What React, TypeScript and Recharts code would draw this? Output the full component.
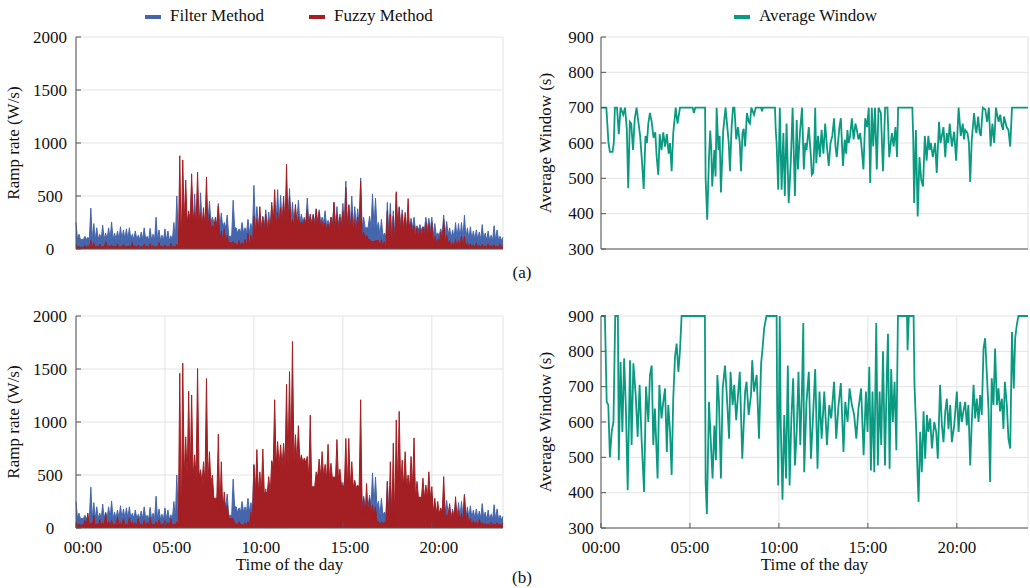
import React from "react";
import {
  Area,
  AreaChart,
  CartesianGrid,
  Legend,
  Line,
  LineChart,
  XAxis,
  YAxis
} from "recharts";

const FONT = '"Liberation Serif", "Times New Roman", serif';
const BLUE = "#4566ad";
const RED = "#a31f23";
const TEAL = "#0a9a82";
const FRAME = "#555";
const GRID = "#e3e3e3";
const INK = "#111";

// time axis (hours of the day)
const hourTicks = [0, 5, 10, 15, 20];
const hourLabels = ["00:00", "05:00", "10:00", "15:00", "20:00"];
const rampTicks = [0, 500, 1000, 1500, 2000];
const windowTicks = [300, 400, 500, 600, 700, 800, 900];

// ramp rate peaks, one every 10 minutes from 00:00 to 24:00 (W/s)
const rampHours = Array.from({ length: 145 }, (_, i) => i / 6);

const filterRamp = [
  250, 140, 90, 120, 110, 385, 240, 200, 140, 225, 150, 200, 255, 150, 170, 210, 180, 190,
  200, 140, 170, 130, 160, 200, 120, 195, 140, 300, 180, 130, 190, 170, 125, 250, 500, 300,
  420, 350, 330, 590, 520, 360, 530, 320, 300, 450, 300, 260, 430, 340, 250, 320, 120, 460,
  200, 190, 250, 200, 280, 240, 600, 400, 330, 310, 370, 350, 410, 340, 560, 505, 440, 480,
  570, 440, 380, 460, 330, 300, 480, 310, 330, 380, 370, 300, 360, 270, 300, 440, 400, 330,
  430, 640, 420, 500, 400, 380, 670, 300, 200, 310, 520, 480, 250, 280, 150, 440, 430, 360,
  520, 400, 370, 300, 280, 290, 300, 220, 230, 210, 300, 290, 300, 240, 150, 190, 320, 260,
  200, 180, 250, 240, 250, 320, 200, 210, 170, 180, 160, 230, 150, 170, 130, 220, 180, 120,
  110
];

const fuzzyRampA = [
  40, 25, 20, 35, 30, 80, 60, 30, 45, 25, 70, 35, 40, 30, 50, 25, 45, 30,
  35, 60, 30, 40, 25, 45, 30, 50, 35, 25, 60, 30, 40, 25, 55, 30, 45, 880,
  840, 650, 360, 710, 345, 725, 340, 390, 680, 330, 220, 300, 405, 170, 190, 130, 60, 70,
  50, 80, 60, 90, 150, 130, 310, 280, 400, 300, 330, 270, 440, 560, 350, 390, 500, 800,
  500, 280, 420, 300, 260, 280, 375, 330, 320, 375, 350, 260, 250, 235, 300, 440, 330, 300,
  360, 580, 410, 345, 280, 300, 640, 160, 130, 90, 70, 80, 80, 90, 70, 360, 330, 310,
  540, 390, 330, 345, 475, 250, 220, 200, 190, 210, 250, 240, 250, 120, 95, 160, 280, 130,
  80, 60, 90, 80, 125, 120, 60, 50, 40, 55, 35, 45, 30, 50, 35, 40, 30, 45,
  30
];

const fuzzyRampB = [
  60, 40, 30, 70, 140, 50, 120, 40, 80, 50, 140, 60, 70, 40, 110, 50, 90, 40,
  100, 60, 50, 90, 40, 70, 50, 100, 40, 60, 80, 40, 70, 50, 90, 40, 60, 1460,
  1555, 860, 1290, 1255, 690, 1505, 550, 625, 1410, 720, 500, 280, 885, 625, 340, 215, 90, 90,
  40, 60, 30, 50, 60, 150, 595, 740, 530, 745, 340, 485, 635, 1210, 815, 785, 800, 1355,
  1475, 1760, 880, 965, 690, 660, 675, 1065, 390, 530, 650, 720, 600, 790, 610, 485, 835, 555,
  405, 845, 845, 625, 450, 405, 1210, 280, 420, 280, 215, 200, 60, 60, 60, 440, 625, 800,
  1020, 1100, 640, 720, 500, 675, 850, 440, 295, 470, 405, 530, 390, 280, 250, 185, 485, 120,
  230, 160, 295, 170, 140, 310, 140, 90, 70, 60, 80, 50, 45, 40, 55, 40, 50, 35,
  45
];

// lower edge of the dense band, one reading per hour 00..24 (W/s)
const filterFloor = [90, 90, 90, 90, 80, 80, 200, 250, 200, 150, 200, 250, 250, 250, 220, 220, 200, 120, 200, 180, 130, 100, 90, 80, 70];
const fuzzyFloorA = [15, 15, 15, 15, 15, 15, 250, 200, 60, 30, 150, 220, 220, 200, 180, 170, 100, 20, 150, 120, 60, 20, 15, 15, 15];
const fuzzyFloorB = [25, 25, 25, 25, 25, 25, 480, 420, 150, 30, 330, 580, 620, 480, 460, 380, 120, 30, 380, 280, 130, 60, 30, 25, 25];

// average window, [hour, seconds]
const windowA: [number, number][] = [
  [0, 700], [0.3, 700], [0.42, 600], [0.5, 575], [0.65, 575], [0.72, 600], [0.78, 700], [0.9, 700],
  [1.0, 625], [1.1, 700], [1.25, 680], [1.35, 700], [1.45, 640], [1.53, 472], [1.62, 660], [1.7, 655],
  [1.8, 580], [1.9, 670], [2.0, 700], [2.1, 660], [2.2, 620], [2.3, 550], [2.4, 470], [2.5, 620],
  [2.58, 600], [2.66, 655], [2.75, 685], [2.85, 660], [2.95, 615], [3.05, 630], [3.13, 560], [3.22, 510],
  [3.3, 625], [3.4, 580], [3.5, 630], [3.6, 590], [3.7, 625], [3.8, 570], [3.88, 600], [3.97, 520],
  [4.06, 628], [4.2, 700], [4.3, 655], [4.44, 700], [5.15, 700], [5.22, 685], [5.3, 700], [5.85, 700],
  [5.88, 500], [5.97, 383], [6.07, 560], [6.14, 635], [6.2, 580], [6.25, 477], [6.37, 580], [6.44, 505],
  [6.5, 700], [6.6, 580], [6.67, 620], [6.74, 460], [6.87, 635], [7.0, 700], [7.1, 645], [7.18, 600],
  [7.25, 520], [7.34, 645], [7.42, 700], [7.5, 700], [7.6, 610], [7.7, 645], [7.8, 600], [7.87, 520],
  [7.95, 628], [8.02, 640], [8.1, 590], [8.2, 685], [8.3, 660], [8.37, 655], [8.45, 700], [8.6, 680],
  [8.7, 700], [9.0, 700], [9.05, 690], [9.1, 700], [9.78, 700], [9.82, 637], [9.87, 600], [9.96, 468],
  [10.05, 700], [10.15, 468], [10.25, 628], [10.33, 450], [10.43, 655], [10.55, 430], [10.67, 550], [10.77, 700],
  [10.9, 450], [11.0, 665], [11.07, 525], [11.18, 628], [11.3, 700], [11.4, 525], [11.48, 600], [11.55, 580],
  [11.68, 645], [11.8, 560], [11.85, 510], [11.93, 515], [12.0, 610], [12.04, 700], [12.1, 543], [12.2, 620],
  [12.3, 560], [12.4, 637], [12.5, 570], [12.6, 655], [12.7, 590], [12.8, 535], [12.9, 600], [13.0, 620],
  [13.1, 670], [13.18, 590], [13.25, 560], [13.4, 645], [13.48, 670], [13.6, 535], [13.7, 610], [13.78, 570],
  [13.85, 637], [13.92, 600], [14.0, 620], [14.1, 670], [14.2, 610], [14.3, 655], [14.38, 637], [14.47, 610],
  [14.57, 628], [14.66, 580], [14.75, 525], [14.85, 670], [14.95, 645], [15.05, 700], [15.13, 487], [15.22, 700],
  [15.3, 590], [15.4, 700], [15.5, 525], [15.6, 700], [15.73, 685], [15.85, 520], [15.97, 700], [16.1, 700],
  [16.2, 560], [16.35, 628], [16.45, 590], [16.55, 645], [16.64, 560], [16.7, 700], [17.5, 700], [17.55, 610],
  [17.6, 430], [17.7, 637], [17.8, 392], [17.9, 560], [18.0, 495], [18.1, 477], [18.2, 620], [18.3, 550],
  [18.4, 620], [18.47, 580], [18.54, 600], [18.65, 560], [18.78, 600], [18.87, 515], [19.0, 660], [19.08, 600],
  [19.16, 620], [19.25, 645], [19.35, 560], [19.43, 628], [19.52, 600], [19.6, 655], [19.72, 590], [19.85, 632],
  [19.96, 550], [20.1, 700], [20.22, 620], [20.33, 655], [20.4, 610], [20.47, 637], [20.6, 628], [20.68, 600],
  [20.75, 490], [20.84, 610], [20.97, 685], [21.05, 640], [21.1, 628], [21.2, 675], [21.28, 630], [21.35, 620],
  [21.46, 700], [21.6, 695], [21.7, 660], [21.8, 700], [21.9, 590], [22.0, 655], [22.1, 600], [22.2, 700],
  [22.25, 685], [22.35, 660], [22.44, 680], [22.52, 650], [22.6, 637], [22.65, 675], [22.8, 645], [22.9, 637],
  [23.0, 590], [23.1, 700], [24, 700]
];

const windowB: [number, number][] = [
  [0, 900], [0.22, 900], [0.32, 657], [0.41, 648], [0.5, 500], [0.6, 572], [0.7, 600], [0.8, 900],
  [0.95, 900], [1.0, 492], [1.1, 770], [1.2, 572], [1.3, 780], [1.4, 638], [1.5, 407], [1.63, 775],
  [1.72, 535], [1.82, 766], [1.95, 676], [2.06, 558], [2.17, 705], [2.28, 553], [2.42, 402], [2.53, 700],
  [2.66, 600], [2.75, 733], [2.85, 760], [2.94, 535], [3.03, 638], [3.18, 440], [3.28, 705], [3.4, 610],
  [3.5, 657], [3.6, 695], [3.7, 515], [3.78, 648], [3.88, 572], [3.97, 450], [4.06, 666], [4.16, 785],
  [4.25, 822], [4.35, 742], [4.44, 803], [4.53, 900], [5.84, 900], [5.88, 430], [5.95, 340], [6.07, 657],
  [6.18, 535], [6.27, 440], [6.37, 590], [6.46, 492], [6.54, 733], [6.63, 657], [6.74, 440], [6.84, 695],
  [6.97, 760], [7.06, 686], [7.2, 553], [7.28, 742], [7.4, 648], [7.49, 705], [7.6, 605], [7.7, 676],
  [7.8, 742], [7.94, 496], [8.1, 686], [8.18, 714], [8.3, 620], [8.43, 676], [8.5, 775], [8.6, 686],
  [8.75, 733], [8.88, 553], [9.0, 766], [9.08, 808], [9.17, 865], [9.3, 900], [9.87, 900], [9.9, 648],
  [9.96, 420], [10.05, 900], [10.1, 600], [10.2, 380], [10.3, 620], [10.4, 440], [10.5, 760], [10.6, 420],
  [10.7, 610], [10.8, 724], [10.9, 477], [11.0, 572], [11.1, 742], [11.2, 535], [11.3, 700], [11.37, 880],
  [11.42, 458], [11.55, 657], [11.68, 742], [11.8, 496], [11.93, 630], [12.04, 750], [12.17, 468], [12.28, 686],
  [12.4, 553], [12.55, 686], [12.7, 535], [12.83, 648], [12.94, 610], [13.1, 714], [13.22, 553], [13.35, 648],
  [13.48, 710], [13.63, 515], [13.73, 657], [13.86, 600], [13.97, 695], [14.1, 648], [14.23, 620], [14.35, 553],
  [14.47, 638], [14.62, 695], [14.76, 506], [14.89, 686], [14.98, 572], [15.08, 756], [15.17, 463], [15.26, 686],
  [15.36, 458], [15.47, 880], [15.56, 477], [15.66, 686], [15.75, 535], [15.85, 800], [15.96, 477], [16.07, 742],
  [16.13, 850], [16.22, 468], [16.31, 750], [16.4, 600], [16.5, 714], [16.6, 520], [16.69, 900], [17.2, 900],
  [17.23, 803], [17.3, 900], [17.57, 900], [17.62, 705], [17.72, 572], [17.8, 440], [17.85, 374], [17.94, 572],
  [18.03, 458], [18.13, 630], [18.22, 496], [18.32, 620], [18.4, 572], [18.5, 610], [18.6, 525], [18.73, 600],
  [18.84, 572], [18.93, 496], [19.06, 705], [19.16, 590], [19.25, 543], [19.35, 630], [19.44, 666], [19.53, 580],
  [19.63, 648], [19.72, 543], [19.85, 590], [20.0, 686], [20.1, 572], [20.19, 657], [20.28, 600], [20.37, 630],
  [20.47, 657], [20.56, 590], [20.65, 648], [20.75, 477], [20.84, 600], [20.94, 705], [21.03, 610], [21.12, 666],
  [21.22, 600], [21.31, 676], [21.4, 620], [21.5, 808], [21.59, 837], [21.68, 742], [21.78, 638], [21.87, 430],
  [21.96, 724], [22.06, 648], [22.15, 808], [22.25, 648], [22.34, 695], [22.43, 630], [22.53, 666], [22.62, 580],
  [22.7, 714], [22.81, 648], [22.9, 553], [23.0, 525], [23.1, 855], [23.2, 695], [23.28, 837], [23.37, 875],
  [23.46, 900], [24, 900]
];

// peaks every 10 min, with the band floor between neighbouring peaks
function rampRows(fuzzy: number[], fuzzyFloor: number[]) {
  const rows: { h: number; filter: number; fuzzy: number }[] = [];
  rampHours.forEach((h, i) => {
    rows.push({ h, filter: filterRamp[i], fuzzy: fuzzy[i] });
    if (i < rampHours.length - 1) {
      const hr = Math.floor(h);
      rows.push({
        h: h + 1 / 12,
        filter: Math.min(filterFloor[hr], filterRamp[i], filterRamp[i + 1]),
        fuzzy: Math.min(fuzzyFloor[hr], fuzzy[i], fuzzy[i + 1])
      });
    }
  });
  return rows;
}

const txt = { fontFamily: FONT, fontSize: 17, fill: INK };

const xTick = (dx: number, baseline: number) => (p: any) => (
  <text x={p.x + dx} y={baseline} textAnchor="middle" {...txt}>
    {hourLabels[hourTicks.indexOf(p.payload.value)]}
  </text>
);

const yTick = (cx: number) => (p: any) => (
  <text x={cx} y={p.y} dy="0.34em" textAnchor="middle" {...txt}>
    {p.payload.value}
  </text>
);

const yTitle = (value: string, x: number, y: number) => ({
  content: () => (
    <text x={x} y={y} transform={`rotate(-90 ${x} ${y})`} textAnchor="middle" {...txt}>
      {value}
    </text>
  )
});

const xTitle = (x: number, y: number) => ({
  content: () => (
    <text x={x} y={y} textAnchor="middle" {...txt}>
      Time of the day
    </text>
  )
});

function LegendItem({ left, color, label }: { left: number; color: string; label: string }) {
  return (
    <>
      <span style={{ position: "absolute", left, top: 14.5, width: 16, height: 4, background: color }} />
      <span
        style={{
          position: "absolute",
          left: left + 25,
          top: 6.5,
          lineHeight: "17px",
          fontFamily: FONT,
          fontSize: 17,
          color: INK,
          whiteSpace: "nowrap"
        }}
      >
        {label}
      </span>
    </>
  );
}

// plot area inside each chart: x 76..503, height 212
type PanelProps = { top: number; height: number; plotTop: number; bottom: boolean };

function frameAxes(domain: [number, number], ticks: number[]) {
  return [
    <XAxis key="xt" xAxisId="top" orientation="top" dataKey="h" type="number" domain={[0, 24]}
      ticks={hourTicks} tick={false} tickSize={-5} height={0} stroke={FRAME} />,
    <YAxis key="yr" yAxisId="right" orientation="right" type="number" domain={domain}
      ticks={ticks} tick={false} tickSize={-5} width={0} stroke={FRAME} />
  ];
}

function RampPanel({ top, height, plotTop, bottom, fuzzy, floor }: PanelProps & { fuzzy: number[]; floor: number[] }) {
  const rows = rampRows(fuzzy, floor);
  const xh = bottom ? 50 : 30;
  return (
    <div style={{ position: "absolute", left: 0, top }}>
      <AreaChart width={515} height={height} data={rows}
        margin={{ top: plotTop, right: 12, left: 0, bottom: height - plotTop - 212 - xh }}>
        <CartesianGrid stroke={GRID} />
        <XAxis dataKey="h" type="number" domain={[0, 24]} ticks={hourTicks} tickSize={-5} height={xh}
          stroke={FRAME} tick={bottom ? xTick(7, 263) : false}
          label={bottom ? xTitle(289.5, 280) : undefined} />
        <YAxis type="number" domain={[0, 2000]} ticks={rampTicks} width={76} tickSize={-5}
          stroke={FRAME} tick={yTick(50)} label={yTitle("Ramp rate (W/s)", 19, plotTop + 106)} />
        {frameAxes([0, 2000], rampTicks)}
        {!bottom && (
          <Legend layout="vertical" align="center" verticalAlign="middle"
            wrapperStyle={{ left: 0, top: 0, width: 515, height: 30 }}
            content={() => (
              <div style={{ position: "relative", width: 515, height: 30 }}>
                <LegendItem left={145} color={BLUE} label="Filter Method" />
                <LegendItem left={309} color={RED} label="Fuzzy Method" />
              </div>
            )} />
        )}
        <Area type="linear" dataKey="filter" name="Filter Method" stroke={BLUE} strokeWidth={1}
          fill={BLUE} fillOpacity={1} isAnimationActive={false} />
        <Area type="linear" dataKey="fuzzy" name="Fuzzy Method" stroke={RED} strokeWidth={1}
          fill={RED} fillOpacity={1} isAnimationActive={false} />
      </AreaChart>
    </div>
  );
}

function WindowPanel({ top, height, plotTop, bottom, series }: PanelProps & { series: [number, number][] }) {
  const rows = series.map(([h, v]) => ({ h, v }));
  const xh = bottom ? 50 : 30;
  return (
    <div style={{ position: "absolute", left: 525, top }}>
      <LineChart width={505} height={height} data={rows}
        margin={{ top: plotTop, right: 2, left: 0, bottom: height - plotTop - 212 - xh }}>
        <CartesianGrid stroke={GRID} />
        <XAxis dataKey="h" type="number" domain={[0, 24]} ticks={hourTicks} tickSize={-5} height={xh}
          stroke={FRAME} tick={bottom ? xTick(0, 263) : false}
          label={bottom ? xTitle(289.5, 280) : undefined} />
        <YAxis type="number" domain={[300, 900]} ticks={windowTicks} width={76} tickSize={-5}
          stroke={FRAME} tick={yTick(56)} label={yTitle("Average Window (s)", 26, plotTop + 106)} />
        {frameAxes([300, 900], windowTicks)}
        {!bottom && (
          <Legend layout="vertical" align="center" verticalAlign="middle"
            wrapperStyle={{ left: 0, top: 0, width: 505, height: 30 }}
            content={() => (
              <div style={{ position: "relative", width: 505, height: 30 }}>
                <LegendItem left={209} color={TEAL} label="Average Window" />
              </div>
            )} />
        )}
        <Line type="linear" dataKey="v" name="Average Window" stroke={TEAL} strokeWidth={1.8}
          dot={false} isAnimationActive={false} />
      </LineChart>
    </div>
  );
}

const tagStyle: React.CSSProperties = {
  position: "absolute",
  width: 34,
  textAlign: "center",
  lineHeight: "17px",
  fontFamily: FONT,
  fontSize: 17,
  color: INK
};

export default function App() {
  return (
    <div style={{ position: "absolute", left: 0, top: 0, width: 1030, height: 588, background: "#fff" }}>
      <RampPanel top={0} height={290} plotTop={37} bottom={false} fuzzy={fuzzyRampA} floor={fuzzyFloorA} />
      <WindowPanel top={0} height={290} plotTop={37} bottom={false} series={windowA} />
      <RampPanel top={290} height={298} plotTop={26} bottom={true} fuzzy={fuzzyRampB} floor={fuzzyFloorB} />
      <WindowPanel top={290} height={298} plotTop={26} bottom={true} series={windowB} />
      <div style={{ ...tagStyle, left: 505, top: 264 }}>(a)</div>
      <div style={{ ...tagStyle, left: 505, top: 569 }}>(b)</div>
    </div>
  );
}
